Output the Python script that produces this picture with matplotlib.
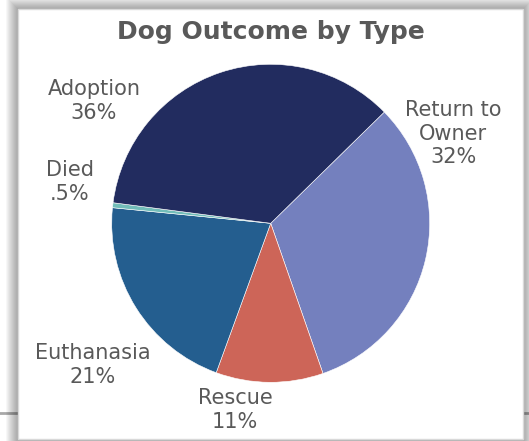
import numpy as np
import matplotlib
matplotlib.use('Agg')
import matplotlib.pyplot as plt
from matplotlib.patches import Rectangle
from matplotlib.lines import Line2D

# data
labels = ['Return to\nOwner', 'Rescue', 'Euthanasia', 'Died', 'Adoption']
values = [32.0, 10.9, 21.0, 0.5, 35.6]
pct_text = ['32%', '11%', '21%', '.5%', '36%']
colors = ['#7480BE', '#CD6558', '#245E8F', '#72BDB9', '#222C5F']
# label centres in units of pie radius (x right, y up)
label_pos = [(1.147, 0.562), (-0.225, -1.174), (-1.118, -0.891), (-1.262, 0.260), (-1.111, 0.769)]

W, H = 529, 441
fig = plt.figure(figsize=(W / 100, H / 100), dpi=100)
fig.patch.set_facecolor('white')

def px_rect(x0, y0, x1, y1, **kw):
    # image pixel coords (top-down) -> figure fraction
    return Rectangle((x0 / W, 1 - y1 / H), (x1 - x0) / W, (y1 - y0) / H,
                     transform=fig.transFigure, **kw)

# background gridline behind the box
fig.add_artist(Line2D([0, 1], [1 - 413 / H, 1 - 413 / H], transform=fig.transFigure,
                      color='#A8A8A8', lw=2, zorder=0))

# soft shadow round the chart box
bx0, by0, bx1, by1 = 18, 9, 523, 439
for i in range(12, 0, -1):
    fig.add_artist(px_rect(bx0 - i, by0 - i, bx1 + i, by1 + i, facecolor='black',
                           edgecolor='none', alpha=0.03, zorder=1))
fig.add_artist(px_rect(bx0, by0, bx1, by1, facecolor='white', edgecolor='#D9D9D9',
                       lw=1, zorder=2))

# pie axes: centre (270.7, 223.3), radius 159 px
cx, cy, R = 270.7, 223.3, 159
ax = fig.add_axes([(cx - R) / W, (H - cy - R) / H, 2 * R / W, 2 * R / H])
ax.set_zorder(3)
ax.pie(values, colors=colors, startangle=44.4, counterclock=False,
       wedgeprops=dict(edgecolor='white', linewidth=0.4))
ax.set_xlim(-1, 1)
ax.set_ylim(-1, 1)
ax.set_aspect('equal')
ax.axis('off')

for lab, p, (lx, ly) in zip(labels, pct_text, label_pos):
    ax.text(lx, ly, lab + '\n' + p, ha='center', va='center', fontsize=15,
            color='#595959', linespacing=1.22, family='DejaVu Sans', clip_on=False)

fig.text(270.6 / W, 1 - 32 / H, 'Dog Outcome by Type', ha='center', va='center',
         fontsize=18, fontweight='bold', color='#595959', zorder=4)

fig.savefig('out.png', dpi=100)
